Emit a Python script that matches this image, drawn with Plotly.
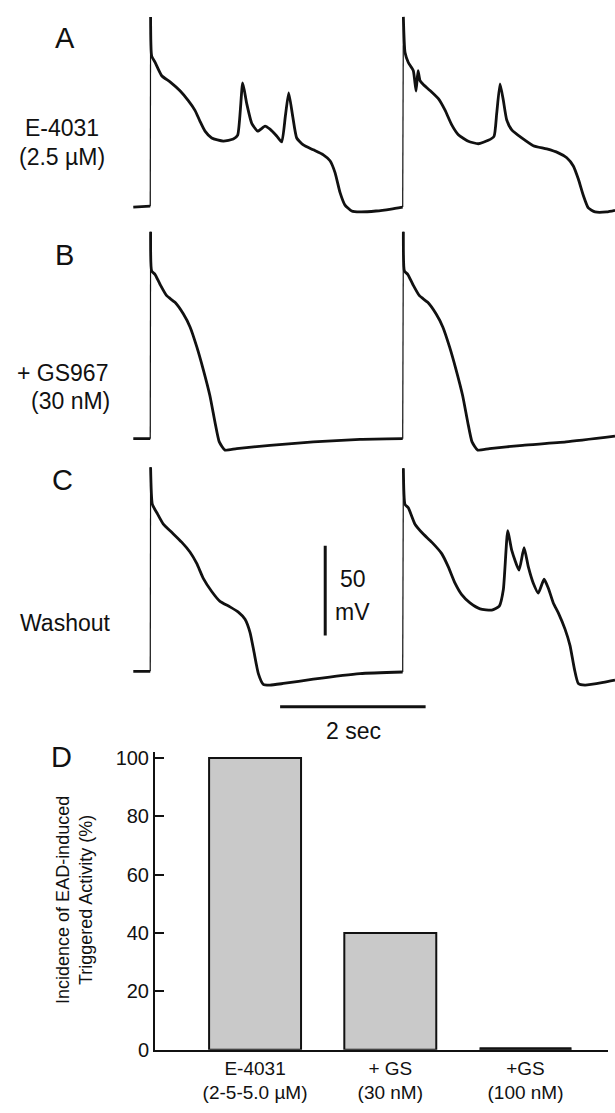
import plotly.graph_objects as go

# ---------------- data (time in s, membrane potential in mV) ----------------
A_t = [-0.238, -0.005, 0, 0.015, 0.060, 0.153, 0.267, 0.404, 0.518, 0.610, 0.679, 0.748, 0.840, 0.999,
       1.137, 1.197, 1.266, 1.321, 1.390, 1.472, 1.573, 1.641, 1.733, 1.802, 1.852, 1.898, 1.953, 2.008,
       2.099, 2.236, 2.374, 2.466, 2.535, 2.603, 2.672, 2.764, 2.878, 3.098, 3.306, 3.465,
       3.474, 3.497, 3.542, 3.611, 3.648, 3.676, 3.703, 3.748, 3.840, 3.955, 4.047, 4.139, 4.230, 4.367,
       4.504, 4.642, 4.720, 4.757, 4.803, 4.848, 4.895, 4.964, 5.101, 5.260, 5.445, 5.604, 5.720, 5.810,
       5.879, 5.948, 6.016, 6.109, 6.269, 6.383]
A_v = [-85, -84.5, 21.0, -0.8, -4.2, -11.8, -15.2, -20.2, -25.7, -31.1, -37.2, -42.7, -46.5, -48.2,
       -47.1, -44.9, -15.8, -27.3, -38.3, -42.7, -39.9, -41.6, -45.4, -48.7, -34.4, -21.3, -34.4, -46.5,
       -50.4, -53.1, -55.9, -59.2, -65.8, -76.8, -83.9, -87.2, -87.7, -87.2, -86.1, -85,
       21.0, 1.1, -4.4, -9.0, -20.3, -9.0, -14.5, -16.7, -20.0, -24.6, -31.0, -39.2, -44.7, -48.3,
       -49.7, -47.8, -45.6, -32.8, -16.3, -25.5, -36.5, -42.0, -46.5, -50.8, -52.6, -54.8, -57.5, -62.1,
       -69.4, -78.6, -85.5, -87.7, -87.7, -86.8]

B_t = [-0.238, -0.005, 0, 0.015, 0.060, 0.129, 0.221, 0.335, 0.449, 0.542, 0.634, 0.724, 0.816, 0.885,
       0.944, 1.023, 1.184, 1.641, 2.236, 2.878, 3.465,
       3.474, 3.489, 3.534, 3.603, 3.695, 3.809, 3.923, 4.016, 4.108, 4.198, 4.290, 4.359, 4.418, 4.497,
       4.658, 5.115, 5.710, 6.383]
B_v = [-85, -85, 30.4, 8.4, 6.6, 1.1, -5.3, -9.0, -15.4, -22.7, -33.7, -46.5, -61.2, -75.8,
       -86.8, -91.4, -90.5, -88.7, -86.8, -85.4, -85,
       30.4, 8.4, 6.6, 1.1, -5.3, -9.0, -15.4, -22.7, -33.7, -46.5, -61.2, -75.8, -86.8, -91.4,
       -90.5, -88.7, -86.8, -83.6]

C_t = [-0.238, -0.005, 0, 0.024, 0.084, 0.175, 0.290, 0.427, 0.541, 0.634, 0.724, 0.840, 0.954, 1.091,
       1.206, 1.298, 1.367, 1.422, 1.481, 1.549, 1.641, 1.824, 2.236, 2.878, 3.465,
       3.474, 3.497, 3.542, 3.634, 3.748, 3.864, 4.001, 4.092, 4.184, 4.276, 4.390, 4.528, 4.689, 4.793,
       4.848, 4.909, 4.964, 5.064, 5.133, 5.192, 5.260, 5.329, 5.408, 5.467, 5.535, 5.604, 5.696, 5.765,
       5.824, 5.879, 5.971, 6.223, 6.383]
C_v = [-85, -85, 28.7, 8.0, 3.5, -3.0, -7.5, -13.0, -18.5, -24.9, -33.2, -40.5, -46.0, -49.1,
       -52.0, -56.0, -63.4, -74.4, -86.3, -92.3, -92.7, -91.8, -89.4, -86.3, -85.4,
       28.2, 8.0, 6.2, -3.0, -8.5, -13.0, -19.4, -26.8, -35.9, -42.3, -46.9, -50.2, -50.9, -48.7,
       -39.6, -6.6, -17.6, -28.6, -16.1, -26.8, -35.9, -41.4, -33.7, -38.7, -46.9, -52.4, -61.5, -70.7,
       -83.5, -91.8, -92.7, -91.2, -89.9]

panel_names = ["A", "B", "C"]
panel_labels = [["E-4031", "(2.5 µM)"], ["+ GS967", "(30 nM)"], ["Washout"]]

# scale bars
bar_mv = 50
bar_sec = 2

# panel D
categories = ["E-4031<br>(2-5-5.0 µM)", "+ GS<br>(30 nM)", "+GS<br>(100 nM)"]
incidence = [100, 40, 0]
d_ticks = [0, 20, 40, 60, 80, 100]
d_title = "Incidence of EAD-induced<br>Triggered Activity (%)"

# ---------------- layout helpers ----------------
W, H = 615, 1113
FONT = "Liberation Sans, Arial, sans-serif"
INK = "#111111"
LABEL_SIZE = 23


def py(p):
    return 1 - p / H


def px(p):
    return p / W


PX_PER_MV = 1.82
panel_base_px = [205, 440, 676]          # pixel row of the -85 mV resting level
panel_ranges = [[-95, 24], [-95, 33], [-110, 30]]


def domain_for(base, rng):
    top = base - (rng[1] + 85) * PX_PER_MV
    bot = base + (-85 - rng[0]) * PX_PER_MV
    return [py(bot), py(top)]


fig = go.Figure()

series = [(A_t, A_v), (B_t, B_v), (C_t, C_v)]
yrefs = ["y", "y2", "y3"]
for (t, v), yr in zip(series, yrefs):
    up_x, up_y = [], []
    tx, vy = [], []
    for i in range(len(t)):
        if i > 0 and v[i] - v[i - 1] > 50:
            # upstroke: thin segment, break the thick line
            up_x += [t[i - 1], t[i], None]
            up_y += [v[i - 1], v[i], None]
            tx.append(None)
            vy.append(None)
        tx.append(t[i])
        vy.append(v[i])
    fig.add_trace(go.Scatter(x=up_x, y=up_y, mode="lines", xaxis="x", yaxis=yr,
                             line=dict(color=INK, width=1.2), hoverinfo="skip", showlegend=False))
    fig.add_trace(go.Scatter(x=tx, y=vy, mode="lines", xaxis="x", yaxis=yr,
                             line=dict(color=INK, width=2.8, shape="spline", smoothing=0.5),
                             connectgaps=False, hoverinfo="skip", showlegend=False))

# scale bars in panel C coordinates
sb_t = 2.40
sb_v0 = -65
fig.add_trace(go.Scatter(x=[sb_t, sb_t], y=[sb_v0, sb_v0 + bar_mv], mode="lines", xaxis="x", yaxis="y3",
                         line=dict(color=INK, width=3), hoverinfo="skip", showlegend=False))
hb_t0 = 1.78
hb_v = -104.8
fig.add_trace(go.Scatter(x=[hb_t0, hb_t0 + bar_sec], y=[hb_v, hb_v], mode="lines", xaxis="x", yaxis="y3",
                         line=dict(color=INK, width=3), hoverinfo="skip", showlegend=False))

# panel D bars
bar_w = 0.68
xs = list(range(len(categories)))
fig.add_trace(go.Bar(x=xs, y=incidence, width=bar_w, xaxis="x2", yaxis="y4",
                     marker=dict(color="#c9c9c9", line=dict(color=INK, width=2)),
                     hoverinfo="skip", showlegend=False))
# zero-height bars rendered as an outline on the baseline
zx, zy = [], []
for xi, val in zip(xs, incidence):
    if val == 0:
        zx += [xi - bar_w / 2, xi + bar_w / 2, None]
        zy += [0.4, 0.4, None]
fig.add_trace(go.Scatter(x=zx, y=zy, mode="lines", xaxis="x2", yaxis="y4",
                         line=dict(color=INK, width=2.5), hoverinfo="skip", showlegend=False))

layout = dict(
    width=W, height=H,
    margin=dict(l=0, r=0, t=0, b=0),
    paper_bgcolor="white", plot_bgcolor="white",
    font=dict(family=FONT, color=INK),
    xaxis=dict(domain=[0, 1], range=[-2.070, 6.383], visible=False, anchor="y"),
    xaxis2=dict(domain=[px(155), px(608)], range=[-0.74, 2.61], anchor="y4",
                showline=True, linecolor=INK, linewidth=2, ticks="",
                tickvals=xs, ticktext=categories, tickfont=dict(size=19, family=FONT, color=INK),
                showgrid=False, zeroline=False, fixedrange=True),
    yaxis4=dict(domain=[py(1060), py(758)], range=[0, 102], anchor="x2",
                showline=True, linecolor=INK, linewidth=2, ticks="inside", ticklen=9, tickwidth=2,
                tickcolor=INK, tickvals=d_ticks, tickfont=dict(size=20, family=FONT, color=INK),
                showgrid=False, zeroline=False, fixedrange=True),
)
for yr, base, rng in zip(["yaxis", "yaxis2", "yaxis3"], panel_base_px, panel_ranges):
    layout[yr] = dict(domain=domain_for(base, rng), range=rng, visible=False, anchor="x")
fig.update_layout(**layout)

ann = []
# panel letters
for name, (xp, yp) in zip(["A", "B", "C", "D"], [(65, 33), (64, 254), (63, 482), (61, 763)]):
    ann.append(dict(text=name, x=px(xp), y=py(yp), xref="paper", yref="paper", showarrow=False,
                    font=dict(size=29, family=FONT, color=INK), xanchor="center", yanchor="middle"))
# condition labels
label_pos = [[(62, 125), (62, 154)], [(63, 373), (70, 402)], [(65, 627)]]
for lines, poss in zip(panel_labels, label_pos):
    for txt, (xp, yp) in zip(lines, poss):
        ann.append(dict(text=txt, x=px(xp), y=py(yp), xref="paper", yref="paper", showarrow=False,
                        font=dict(size=LABEL_SIZE, family=FONT, color=INK), xanchor="center", yanchor="middle"))
# scale bar labels
ann.append(dict(text=str(bar_mv), x=px(353), y=py(582), xref="paper", yref="paper", showarrow=False,
                font=dict(size=LABEL_SIZE, family=FONT, color=INK), xanchor="center", yanchor="middle"))
ann.append(dict(text="mV", x=px(352), y=py(616), xref="paper", yref="paper", showarrow=False,
                font=dict(size=LABEL_SIZE, family=FONT, color=INK), xanchor="center", yanchor="middle"))
ann.append(dict(text=f"{bar_sec} sec", x=px(353), y=py(737), xref="paper", yref="paper", showarrow=False,
                font=dict(size=LABEL_SIZE, family=FONT, color=INK), xanchor="center", yanchor="middle"))
# D axis title
ann.append(dict(text=d_title, x=px(75), y=py(908), xref="paper", yref="paper", showarrow=False,
                textangle=-90, font=dict(size=18, family=FONT, color=INK),
                xanchor="center", yanchor="middle"))
fig.update_layout(annotations=ann)

fig.write_html("out.html")
